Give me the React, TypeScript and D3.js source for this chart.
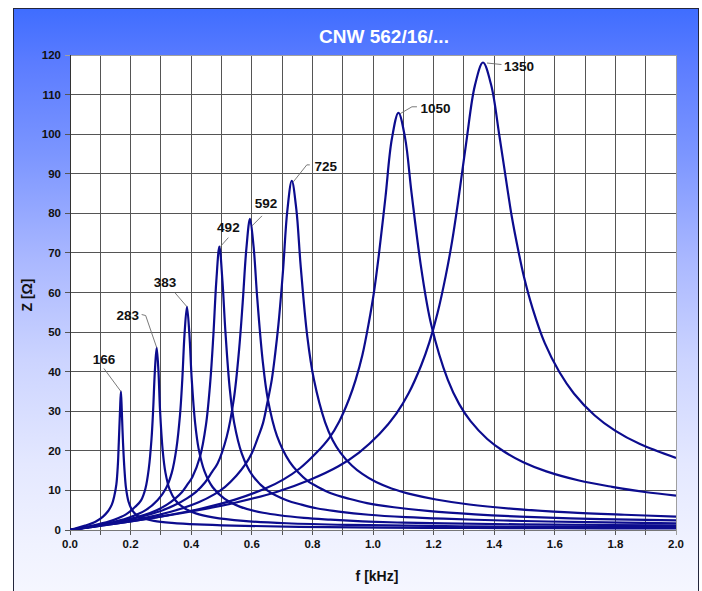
import React from "react";
import * as d3 from "d3";

// resonance curves, f in kHz, Z in ohm
const freq166 = [0, 0.05, 0.084, 0.109, 0.126, 0.138, 0.146, 0.153, 0.158, 0.161, 0.165, 0.168, 0.171, 0.175, 0.18, 0.185, 0.193, 0.205, 0.222, 0.244, 0.277, 0.336, 0.42, 0.538, 0.756, 1.176, 1.6, 2.0];
const imp166 = [0, 1.1, 2.1, 3.4, 4.8, 6.4, 8.5, 11.5, 16.5, 22, 30, 35, 30, 22, 15, 10.5, 7.2, 5.0, 3.6, 2.9, 2.3, 1.8, 1.4, 1.1, 0.8, 0.55, 0.45, 0.38];

const freq283 = [0, 0.086, 0.143, 0.186, 0.2145, 0.2345, 0.249, 0.26, 0.269, 0.2745, 0.28, 0.286, 0.292, 0.297, 0.306, 0.315, 0.329, 0.349, 0.378, 0.415, 0.472, 0.572, 0.715, 0.915, 1.287, 1.7, 2.0];
const imp283 = [0, 1.3, 2.5, 4.0, 5.8, 7.5, 10.5, 15.5, 23, 30.5, 40, 46.1, 40, 30.5, 20, 14.5, 10.2, 7.4, 5.5, 4.2, 3.2, 2.3, 1.7, 1.3, 0.95, 0.8, 0.72];

const freq383 = [0, 0.116, 0.193, 0.251, 0.2895, 0.3165, 0.336, 0.351, 0.363, 0.3706, 0.378, 0.386, 0.394, 0.4014, 0.413, 0.4246, 0.444, 0.471, 0.5095, 0.56, 0.637, 0.772, 0.86, 0.965, 1.08, 1.235, 1.6, 2.0];
const imp383 = [0, 1.55, 3.1, 5.1, 7.6, 10.5, 14.5, 20.5, 29, 38, 49.5, 56.4, 49.5, 38.5, 27, 20.5, 14.8, 10.8, 7.9, 5.9, 4.35, 3.05, 2.6, 2.2, 1.9, 1.65, 1.35, 1.15];

const freq492 = [0, 0.148, 0.2465, 0.286, 0.32, 0.345, 0.37, 0.3895, 0.404, 0.429, 0.4486, 0.463, 0.473, 0.483, 0.493, 0.503, 0.513, 0.5275, 0.542, 0.567, 0.601, 0.651, 0.715, 0.764, 0.813, 0.887, 0.986, 1.109, 1.2325, 1.43, 1.578, 1.824, 2.0];
const imp492 = [0, 1.9, 3.85, 5.0, 6.4, 7.8, 9.6, 11.7, 13.4, 18.5, 26.5, 37.5, 49, 63, 71.6, 63, 50, 35.5, 27, 19.3, 13.9, 10.0, 7.5, 6.4, 5.5, 4.65, 3.85, 3.25, 2.85, 2.4, 2.15, 1.85, 1.7];

const freq592 = [0, 0.178, 0.297, 0.3445, 0.386, 0.416, 0.4455, 0.469, 0.487, 0.517, 0.5405, 0.558, 0.57, 0.582, 0.594, 0.606, 0.618, 0.6356, 0.653, 0.683, 0.725, 0.754, 0.784, 0.82, 0.861, 0.921, 0.98, 1.069, 1.188, 1.3365, 1.485, 1.75, 2.0];
const imp592 = [0, 2.35, 4.75, 6.24, 8.0, 9.65, 12.0, 14.7, 16.8, 23.5, 33, 45.5, 57.5, 71, 78.6, 71.5, 58.5, 43, 33, 23.8, 17.2, 14.5, 12.4, 10.8, 9.3, 7.9, 6.8, 5.74, 4.75, 3.96, 3.4, 2.75, 2.45];

const freq725 = [0, 0.2196, 0.293, 0.366, 0.4246, 0.476, 0.512, 0.549, 0.578, 0.6, 0.622, 0.637, 0.651, 0.666, 0.677, 0.688, 0.703, 0.717, 0.732, 0.747, 0.761, 0.783, 0.805, 0.842, 0.867, 0.893, 0.93, 0.966, 1.01, 1.061, 1.135, 1.208, 1.318, 1.464, 1.647, 1.83, 2.0];
const imp725 = [0, 2.65, 3.82, 5.35, 7.0, 9.0, 10.9, 13.7, 16.5, 19.4, 23.7, 27, 32, 38, 44.4, 52, 65.5, 80.5, 88.2, 81, 67, 49, 38, 27.2, 22.7, 19.5, 16.3, 14.1, 12.1, 10.5, 8.86, 7.7, 6.44, 5.35, 4.44, 3.85, 3.4];

const freq1050 = [0, 0.108, 0.217, 0.325, 0.434, 0.542, 0.65, 0.705, 0.759, 0.813, 0.856, 0.889, 0.921, 0.943, 0.965, 0.986, 1.003, 1.019, 1.041, 1.062, 1.084, 1.106, 1.127, 1.16, 1.192, 1.247, 1.2845, 1.322, 1.377, 1.431, 1.496, 1.572, 1.68, 1.789, 1.897, 2.0];
const imp1050 = [0, 1.15, 2.37, 3.76, 5.42, 7.6, 10.67, 12.8, 15.6, 19.5, 23.3, 27.5, 33.1, 38, 44.2, 52.3, 60.0, 69.3, 84, 98.7, 105.4, 99, 85.3, 65.7, 51.9, 37.9, 31.8, 27.5, 23.0, 19.9, 17.1, 14.8, 12.5, 10.9, 9.6, 8.7];

const freq1350 = [0, 0.2045, 0.409, 0.545, 0.6815, 0.7905, 0.886, 0.954, 1.022, 1.077, 1.118, 1.1585, 1.186, 1.213, 1.24, 1.261, 1.281, 1.3085, 1.336, 1.363, 1.39, 1.4175, 1.445, 1.458, 1.479, 1.499, 1.5266, 1.567, 1.615, 1.663, 1.731, 1.799, 1.881, 2.0];
const imp1350 = [0, 2.22, 4.8, 6.88, 9.6, 12.63, 16.1, 19.57, 24.3, 29.4, 34.6, 41.5, 47.4, 54.8, 64.2, 72.9, 83, 98.3, 112.2, 118.1, 112.4, 99.4, 85.5, 79.2, 70.8, 63.7, 56.0, 47.2, 39.9, 34.5, 29.0, 25.1, 21.7, 18.2];

const peakLabels = ["166", "283", "383", "492", "592", "725", "1050", "1350"];
const freqs = [freq166, freq283, freq383, freq492, freq592, freq725, freq1050, freq1350];
const imps = [imp166, imp283, imp383, imp492, imp592, imp725, imp1050, imp1350];

const yTicks = [0, 10, 20, 30, 40, 50, 60, 70, 80, 90, 100, 110, 120];
const xTickLabels = [0, 0.2, 0.4, 0.6, 0.8, 1.0, 1.2, 1.4, 1.6, 1.8, 2.0];
const xGrid = [0, 0.1, 0.2, 0.3, 0.4, 0.5, 0.6, 0.7, 0.8, 0.9, 1.0, 1.1, 1.2, 1.3, 1.4, 1.5, 1.6, 1.7, 1.8, 1.9, 2.0];

// where the peak labels sit, pixels from the peak
const labelPos = [[-17, -27], [-29, -28], [-22, -20], [9, -15], [16, -11], [34, -10], [37, 0], [36, 8]];
const leaders = [
  [[-17, -23], [0, 0]],
  [[-15, -33], [-11, -32], [0, 0]],
  [[-12, -14], [0, 0]],
  [[9, -9], [1, 0]],
  [[12, -3], [2, 7]],
  [[18, -16], [15, -16], [1.5, 1]],
  [[18.5, -6], [13.5, -6], [1.5, 1]],
  [[18.5, 2], [4, 0.5]],
];

const W = 702;
const H = 591;
const left = 70, right = 676, top = 55, bottom = 530;
const font = "'Liberation Sans', Arial, sans-serif";

export default function App() {
  const x = d3.scaleLinear().domain([0, 2]).range([left, right]);
  const y = d3.scaleLinear().domain([0, 120]).range([bottom, top]);

  const line = d3.line<[number, number]>()
    .x(d => x(d[0]))
    .y(d => y(d[1]))
    .curve(d3.curveCatmullRom.alpha(0.5));

  const curves = freqs.map((fs, i) => fs.map((f, j) => [f, imps[i][j]] as [number, number]));

  return (
    <svg width={W} height={H} style={{ position: "absolute", left: 0, top: 0 }}>
      <defs>
        <linearGradient id="bg" x1="0" y1="0" x2="0" y2="1">
          <stop offset="0" stopColor="#3f6dff" />
          <stop offset="0.09" stopColor="#5b7cff" />
          <stop offset="0.24" stopColor="#7b95ff" />
          <stop offset="0.415" stopColor="#a9b7ff" />
          <stop offset="0.587" stopColor="#ccd4ff" />
          <stop offset="0.76" stopColor="#e4e8ff" />
          <stop offset="0.895" stopColor="#f0f2ff" />
          <stop offset="1" stopColor="#f7f8ff" />
        </linearGradient>
        <clipPath id="plot">
          <rect x={left} y={top} width={right - left} height={bottom - top} />
        </clipPath>
      </defs>

      <rect x={13.5} y={8.5} width={685} height={600} fill="url(#bg)" stroke="#23263c" strokeWidth={1} />

      <text x={384} y={43} textAnchor="middle" fill="#ffffff" fontFamily={font} fontWeight="bold" fontSize={19}>
        CNW 562/16/...
      </text>

      <rect x={left} y={top} width={right - left} height={bottom - top} fill="#ffffff" />

      <g shapeRendering="crispEdges">
        {xGrid.map(v => (
          <line key={"gx" + v} x1={x(v)} x2={x(v)} y1={top} y2={bottom + 5}
            stroke={v === 2 ? "#a0a0a0" : "#555555"} strokeWidth={1} />
        ))}
        {yTicks.map(v => (
          <line key={"gy" + v} x1={left - 5} x2={right} y1={y(v)} y2={y(v)}
            stroke={v === 120 ? "#a0a0a0" : "#555555"} strokeWidth={1} />
        ))}
        <line x1={left} x2={left} y1={top} y2={bottom} stroke="#333333" />
        <line x1={left} x2={right} y1={bottom} y2={bottom} stroke="#777777" />
      </g>

      <g clipPath="url(#plot)">
        {curves.map((c, i) => (
          <path key={peakLabels[i]} d={line(c) ?? ""} fill="none" stroke="#0c0c8e" strokeWidth={2.2} />
        ))}
      </g>

      {curves.map((c, i) => {
        const peak = c.reduce((a, b) => (b[1] > a[1] ? b : a));
        const px = x(peak[0]);
        const py = y(peak[1]);
        const pts = leaders[i].map(p => `${px + p[0]},${py + p[1]}`).join(" ");
        return (
          <g key={"lab" + i}>
            <polyline points={pts} fill="none" stroke="#6a6a6a" strokeWidth={0.9} />
            <text x={px + labelPos[i][0]} y={py + labelPos[i][1]} textAnchor="middle"
              fontFamily={font} fontWeight="bold" fontSize={13.5} fill="#111111">
              {peakLabels[i]}
            </text>
          </g>
        );
      })}

      {yTicks.map(v => (
        <text key={"yl" + v} x={61} y={y(v) + 4} textAnchor="end" fontFamily={font}
          fontWeight="bold" fontSize={11.5} fill="#111111">
          {v}
        </text>
      ))}
      {xTickLabels.map(v => (
        <text key={"xl" + v} x={x(v)} y={548} textAnchor="middle" fontFamily={font}
          fontWeight="bold" fontSize={11.5} fill="#111111">
          {v.toFixed(1)}
        </text>
      ))}

      <text x={377} y={581} textAnchor="middle" fontFamily={font} fontWeight="bold" fontSize={14} fill="#111111">
        f [kHz]
      </text>
      <text transform="translate(32,295) rotate(-90)" textAnchor="middle" fontFamily={font}
        fontWeight="bold" fontSize={14} fill="#111111">
        Z [Ω]
      </text>
    </svg>
  );
}
